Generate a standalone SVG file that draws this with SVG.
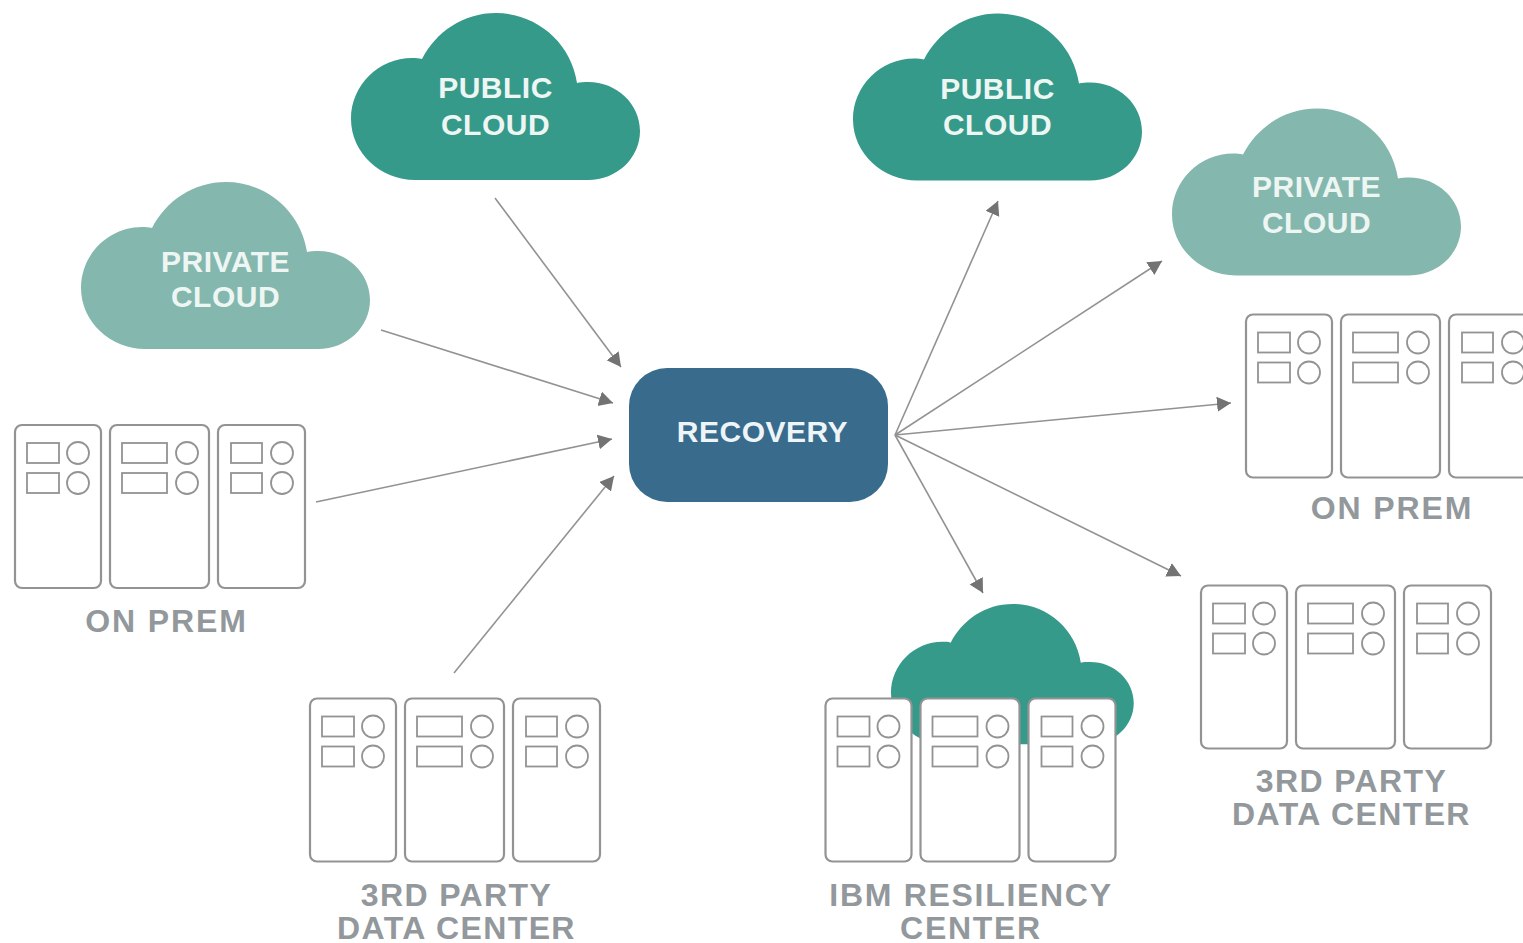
<svg xmlns="http://www.w3.org/2000/svg" width="1523" height="943" viewBox="0 0 1523 943">
<style>
.t{font-family:"Liberation Sans",Arial,sans-serif;font-weight:700;font-size:30px;letter-spacing:.5px;text-anchor:middle}
.w{fill:#eef6f4}
.g{fill:#92989b;font-size:32px;letter-spacing:1.4px}
.g.p{letter-spacing:1.9px}
.s rect,.s circle{fill:#fff;stroke:#939393;stroke-width:1.8}
.s rect.o{stroke-width:2.2}
.c line{stroke:#929292;stroke-width:1.6;marker-end:url(#a)}
</style>
<defs>
<marker id="a" markerUnits="userSpaceOnUse" markerWidth="16" markerHeight="16" refX="14" refY="7.5" orient="auto"><path d="M0,0L14,7.5L0,15Z" fill="#737373"/></marker>
<path id="cloud" d="M64,167C30,167 0,140 0,106C0,72 28,45 61,45C65,45 68,45 71,46C85,19 112,0 145,0C185,0 220,29 226,70C229,69 233,69 237,69C266,69 289,91 289,118C289,145 266,167 237,167Z"/>
<g id="rack" class="s">
<rect class="o" x="0" y="0" width="86" height="163" rx="7"/>
<rect class="o" x="95" y="0" width="99" height="163" rx="7"/>
<rect class="o" x="203" y="0" width="87" height="163" rx="7"/>
<rect x="12" y="18" width="32" height="20"/><circle cx="63" cy="28" r="11"/>
<rect x="12" y="48" width="32" height="20"/><circle cx="63" cy="58" r="11"/>
<rect x="107" y="18" width="45" height="20"/><circle cx="172" cy="28" r="11"/>
<rect x="107" y="48" width="45" height="20"/><circle cx="172" cy="58" r="11"/>
<rect x="216" y="18" width="31" height="20"/><circle cx="267" cy="28" r="11"/>
<rect x="216" y="48" width="31" height="20"/><circle cx="267" cy="58" r="11"/>
</g>
</defs>
<rect width="1523" height="943" fill="#fff"/>
<g id="connectors" class="c">
<line x1="495" y1="198" x2="621" y2="367"/>
<line x1="381" y1="330" x2="613" y2="403"/>
<line x1="316" y1="502" x2="612" y2="439"/>
<line x1="454" y1="673" x2="614" y2="476"/>
<line x1="895" y1="435" x2="998" y2="201"/>
<line x1="895" y1="435" x2="1162" y2="261"/>
<line x1="895" y1="435" x2="1231" y2="403"/>
<line x1="895" y1="435" x2="1181" y2="576"/>
<line x1="895" y1="435" x2="983" y2="593"/>
</g>
<g id="public-cloud-left"><use href="#cloud" x="351" y="13" fill="#369a8b"/><text class="t w" x="495.500" y="98">PUBLIC</text><text class="t w" x="495.500" y="134.500">CLOUD</text></g>
<g id="public-cloud-right"><use href="#cloud" x="853" y="13.500" fill="#369a8b"/><text class="t w" x="997.500" y="99">PUBLIC</text><text class="t w" x="997.500" y="135">CLOUD</text></g>
<g id="private-cloud-left"><use href="#cloud" x="81" y="182" fill="#84b8ae"/><text class="t w" x="225.500" y="271.500">PRIVATE</text><text class="t w" x="225.500" y="307">CLOUD</text></g>
<g id="private-cloud-right"><use href="#cloud" x="1172" y="108.500" fill="#84b8ae"/><text class="t w" x="1316.500" y="197">PRIVATE</text><text class="t w" x="1316.500" y="233">CLOUD</text></g>
<g id="recovery"><rect x="629" y="368" width="259" height="134" rx="38" fill="#386b8c"/><text class="t" fill="#eef5f8" x="762.500" y="442">RECOVERY</text></g>
<g id="on-prem-left"><use href="#rack" x="15" y="425"/><text class="t g p" x="166.500" y="632">ON PREM</text></g>
<g id="on-prem-right"><use href="#rack" x="1246" y="314.500"/><text class="t g p" x="1392" y="519">ON PREM</text></g>
<g id="data-center-left"><use href="#rack" x="310" y="698.500"/><text class="t g" x="456.500" y="906">3RD PARTY</text><text class="t g" x="456.500" y="939">DATA CENTER</text></g>
<g id="data-center-right"><use href="#rack" x="1201" y="585.500"/><text class="t g" x="1351.500" y="792">3RD PARTY</text><text class="t g" x="1351.500" y="825">DATA CENTER</text></g>
<g id="ibm-resiliency-center"><use href="#cloud" transform="translate(891,604) scale(.84)" fill="#369a8b"/><use href="#rack" x="825.500" y="698.500"/><text class="t g" style="letter-spacing:1.7px" x="971" y="906">IBM RESILIENCY</text><text class="t g" style="letter-spacing:1.7px" x="971" y="939">CENTER</text></g>
</svg>
